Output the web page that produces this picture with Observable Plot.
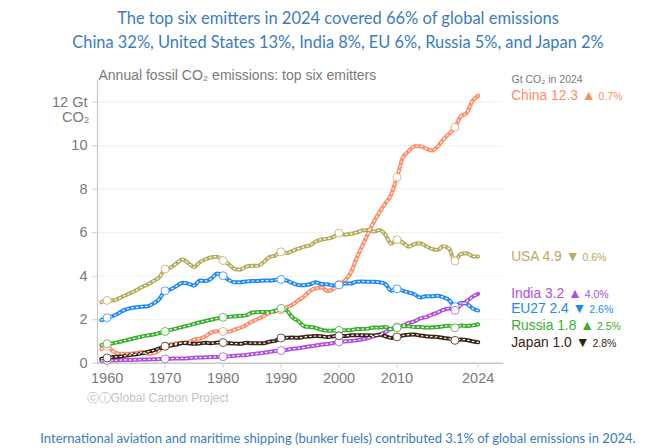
<!DOCTYPE html>
<html><head><meta charset="utf-8">
<script src="https://cdn.jsdelivr.net/npm/d3@7"></script>
<script src="https://cdn.jsdelivr.net/npm/@observablehq/plot@0.6"></script>
<style>
html,body{margin:0;padding:0;background:#fff;}
body{width:667px;height:448px;overflow:hidden;position:relative;}
#title{position:absolute;left:9px;top:6px;width:658px;text-align:center;color:#3b7cc0;font-family:Lato,"Open Sans",sans-serif;}
#title .l{white-space:nowrap;line-height:23.5px;height:23.5px;}
#title span, #caption span{display:inline-block;}
#chart{position:absolute;left:0;top:52px;}
#caption{position:absolute;left:9px;top:428px;width:658px;text-align:center;color:#3b7cc0;font-family:Lato,"Open Sans",sans-serif;line-height:18px;white-space:nowrap;}
</style></head><body>
<div id="title">
<div class="l"><span id="t1">The top six emitters in 2024 covered 66% of global emissions</span></div>
<div class="l"><span id="t2">China 32%, United States 13%, India 8%, EU 6%, Russia 5%, and Japan 2%</span></div>
</div>
<div id="chart"></div>
<div id="caption"><span id="c1">International aviation and maritime shipping (bunker fuels) contributed 3.1% of global emissions in 2024.</span></div>
<script>
const years = d3.range(1959, 2025);
const china = [0.65,0.78,0.55,0.44,0.43,0.44,0.47,0.51,0.43,0.47,0.58,0.79,0.87,0.91,0.94,0.96,1.09,1.13,1.24,1.42,1.47,1.46,1.45,1.55,1.63,1.76,1.92,2.03,2.17,2.33,2.38,2.45,2.57,2.70,2.89,3.08,3.33,3.45,3.48,3.32,3.41,3.62,3.80,4.15,4.80,5.40,5.95,6.50,6.95,7.35,7.75,8.55,9.45,9.75,9.98,9.98,9.88,9.78,9.95,10.30,10.55,10.85,11.35,11.50,12.05,12.30];
const usa = [2.80,2.89,2.88,2.98,3.10,3.22,3.35,3.50,3.62,3.78,3.95,4.33,4.40,4.60,4.78,4.60,4.42,4.65,4.78,4.87,4.90,4.72,4.55,4.32,4.30,4.45,4.48,4.48,4.65,4.88,4.95,5.12,5.07,5.17,5.27,5.36,5.42,5.60,5.69,5.73,5.80,5.98,5.91,5.95,6.01,6.10,6.13,6.05,6.12,5.91,5.49,5.68,5.55,5.35,5.48,5.52,5.38,5.26,5.21,5.38,5.26,4.70,5.02,5.06,4.92,4.90];
const eu27 = [1.98,2.09,2.17,2.30,2.45,2.53,2.57,2.60,2.62,2.75,2.95,3.33,3.40,3.55,3.70,3.66,3.57,3.80,3.78,3.90,4.12,4.02,3.82,3.72,3.72,3.76,3.78,3.78,3.80,3.80,3.83,3.85,3.80,3.68,3.60,3.59,3.63,3.72,3.64,3.63,3.57,3.60,3.67,3.66,3.75,3.76,3.74,3.75,3.72,3.64,3.33,3.42,3.33,3.25,3.17,3.02,3.08,3.08,3.10,3.03,2.90,2.60,2.78,2.74,2.52,2.42];
const india = [0.11,0.12,0.13,0.14,0.15,0.15,0.16,0.17,0.17,0.18,0.19,0.20,0.21,0.22,0.22,0.23,0.25,0.26,0.27,0.28,0.29,0.30,0.32,0.34,0.36,0.38,0.42,0.45,0.48,0.52,0.56,0.58,0.62,0.66,0.69,0.73,0.78,0.81,0.86,0.88,0.93,0.98,1.00,1.02,1.05,1.10,1.16,1.23,1.32,1.43,1.58,1.66,1.73,1.85,1.92,2.06,2.12,2.23,2.33,2.45,2.52,2.43,2.68,2.84,3.05,3.19];
const russia = [0.83,0.89,0.92,0.97,1.04,1.10,1.17,1.23,1.28,1.32,1.38,1.46,1.53,1.60,1.67,1.73,1.81,1.88,1.94,2.00,2.06,2.11,2.13,2.16,2.18,2.20,2.33,2.35,2.36,2.35,2.41,2.52,2.42,2.10,1.93,1.70,1.66,1.62,1.53,1.49,1.50,1.51,1.52,1.52,1.57,1.57,1.59,1.64,1.64,1.67,1.56,1.64,1.70,1.70,1.66,1.66,1.64,1.64,1.66,1.70,1.72,1.63,1.73,1.71,1.74,1.79];
const japan = [0.20,0.24,0.28,0.30,0.34,0.38,0.41,0.45,0.52,0.59,0.68,0.78,0.81,0.86,0.93,0.92,0.89,0.91,0.94,0.92,0.95,0.95,0.92,0.90,0.89,0.94,0.92,0.92,0.92,0.99,1.03,1.16,1.17,1.18,1.17,1.21,1.23,1.25,1.24,1.20,1.24,1.26,1.25,1.28,1.29,1.29,1.29,1.27,1.31,1.24,1.16,1.21,1.27,1.31,1.32,1.27,1.24,1.22,1.21,1.16,1.13,1.05,1.09,1.07,1.01,0.96];

const countries = ["China", "USA", "EU27", "India", "Russia", "Japan"];
const seriesValues = [china, usa, eu27, india, russia, japan];
const colors = ["#ff8c66", "#b5ab5c", "#1e88f5", "#b04fdc", "#3caf2e", "#3b2314"];
const endLabels = ["China 12.3", "USA 4.9", "EU27 2.4", "India 3.2", "Russia 1.8", "Japan 1.0"];
const arrows = ["▲", "▼", "▼", "▲", "▲", "▼"];
const changes = ["0.7%", "0.6%", "2.6%", "4.0%", "2.5%", "2.8%"];
const labelNudge = [0, 0, -1.5, 0, 1, 0];
const yTicks = [0, 2, 4, 6, 8, 10, 12];
const xTicks = [1960, 1970, 1980, 1990, 2000, 2010, 2024];
const markerYears = [1960, 1970, 1980, 1990, 2000, 2010, 2020];

const data = [];
countries.forEach((c, i) => years.forEach((y, j) => data.push({country: c, year: y, value: seriesValues[i][j]})));
const markers = data.filter(d => markerYears.includes(d.year));
const last = countries.map((c, i) => ({country: c, year: 2024, value: seriesValues[i][seriesValues[i].length - 1], label: endLabels[i]}));

const font = "'Liberation Sans', Arial, sans-serif";
const gray = "#7a7a7a";

const chart = Plot.plot({
  width: 667,
  height: 372,
  marginLeft: 97,
  marginRight: 165,
  marginTop: 28,
  marginBottom: 61.3,
  style: {fontFamily: font, background: "transparent", overflow: "visible"},
  x: {domain: [1958.34, 2028.2], axis: null},
  y: {domain: [0, 13], axis: null},
  color: {domain: countries, range: colors},
  marks: [
    Plot.gridY([2, 4, 6, 8, 10, 12], {stroke: "#000", strokeOpacity: 0.06, strokeWidth: 1}),
    Plot.frame({anchor: "left", stroke: "#c8c8c8", strokeWidth: 1.2}),
    Plot.frame({anchor: "bottom", stroke: "#c8c8c8", strokeWidth: 1.5}),
    Plot.axisY(yTicks, {tickSize: 5, text: null, label: null, stroke: "#cfcfcf"}),
    Plot.axisY(yTicks, {tickSize: 0, tickPadding: 10, label: null, fill: gray, fontSize: 14.5,
      tickFormat: d => d === 12 ? "12 Gt" : String(d)}),
    Plot.axisX(xTicks, {tickSize: 5, text: null, label: null, stroke: "#cfcfcf"}),
    Plot.axisX(xTicks, {tickSize: 0, tickPadding: 10, label: null, fill: gray, fontSize: 14.5, tickFormat: d => String(d)}),
    Plot.text(["CO₂"], {y: () => 12, frameAnchor: "left", textAnchor: "end", dx: -8, dy: 15, fill: gray, fontSize: 14.5}),
    Plot.line(data, {x: "year", y: "value", z: "country", stroke: "country", strokeWidth: 4, curve: "monotone-x"}),
    Plot.line(data, {x: "year", y: "value", z: "country", stroke: "white", strokeWidth: 1.2, strokeDasharray: "1.5 3.2", curve: "monotone-x"}),
    Plot.dot(markers, {x: "year", y: "value", stroke: "country", fill: "white", r: 4, strokeWidth: 1, strokeOpacity: 0.75}),
    Plot.text(last, {x: "year", y: "value", text: "label", fill: "country", dx: 33, textAnchor: "start", fontSize: 13.8}),
    Plot.text(["Gt CO₂ in 2024"], {frameAnchor: "top-right", textAnchor: "start", dx: 9, dy: -5, fill: gray, fontSize: 10.5}),
    Plot.text(["Annual fossil CO₂ emissions: top six emitters"], {frameAnchor: "top-left", textAnchor: "start", dx: 1, dy: -10.5, fill: gray, fontSize: 14}),
    Plot.text(["ⓒⓘGlobal Carbon Project"], {frameAnchor: "bottom-left", textAnchor: "start", dx: -11, dy: 39, fill: "#c4c4c4", fontSize: 12})
  ]
});
document.getElementById("chart").appendChild(chart);

// add the small change indicators after each end label
d3.select(chart).selectAll("text").each(function() {
  const i = endLabels.indexOf(this.textContent);
  if (i >= 0) {
    const t = d3.select(this);
    const tr = t.attr("transform") || "";
    t.attr("transform", tr + ` translate(0,${labelNudge[i]})`);
    t.append("tspan").attr("font-size", 14).text("\u00a0" + arrows[i]);
    t.append("tspan").attr("font-size", 10.5).text(" " + changes[i]);
  }
});

// fit title/caption widths to the reference
function fit(id, target, base) {
  const el = document.getElementById(id);
  el.style.fontSize = base + "px";
  const w = el.getBoundingClientRect().width;
  el.style.fontSize = (base * target / w) + "px";
}
fit("t1", 442, 18);
fit("t2", 532, 18);
fit("c1", 596, 13);
</script>
</body></html>
